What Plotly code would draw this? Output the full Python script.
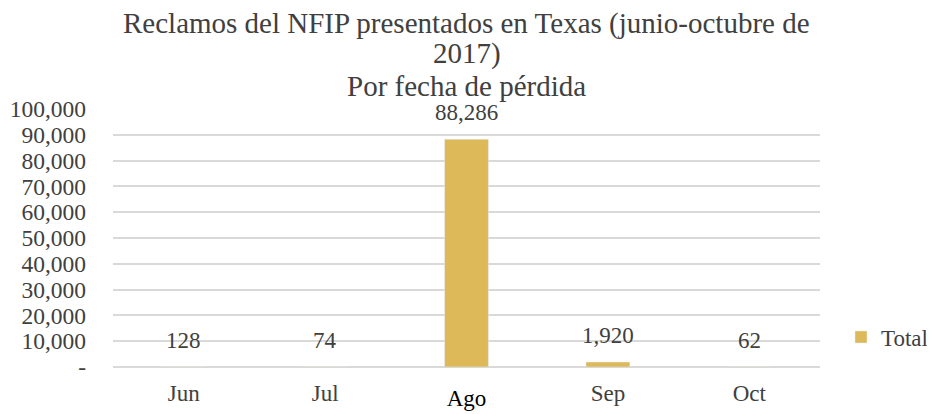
import plotly.graph_objects as go

categories = ["Jun", "Jul", "Ago", "Sep", "Oct"]
values = [128, 74, 88286, 1920, 62]
tick_vals = [0, 10000, 20000, 30000, 40000, 50000, 60000, 70000, 80000, 90000, 100000]
tick_text = ["-", "10,000", "20,000", "30,000", "40,000", "50,000", "60,000",
             "70,000", "80,000", "90,000", "100,000"]
cat_labels = ["Jun", "Jul", "<span style='color:#000000;baseline-shift:-5px'>Ago</span>", "Sep", "Oct"]
title_lines = ["Reclamos del NFIP presentados en Texas (junio-octubre de", "2017)", "Por fecha de pérdida"]

FONT = "Liberation Serif"
GRAY = "#404040"
GOLD = "#DDB95A"

# the page body adds an 8px margin, so the figure is laid out 8px smaller/shifted
OFF = 8
W, H = 935 - OFF, 414 - OFF
PLOT_L, PLOT_R, PLOT_T, PLOT_B = 113, 820, 108.7, 367   # in window pixels
ML = PLOT_L - OFF
MR = W - (PLOT_R - OFF)
MT = PLOT_T - OFF
MB = H - (PLOT_B - OFF)

fig = go.Figure()
fig.add_trace(go.Bar(
    x=categories, y=values, name="Total", marker_color=GOLD, width=0.31,
    showlegend=True,
))

for c, v in zip(categories, values):
    fig.add_annotation(x=c, y=v, text=f"{v:,}", showarrow=False, yanchor="bottom",
                       yshift=12, font=dict(family=FONT, size=23, color=GRAY))

title_px = [23, 53, 86]   # window pixel centres
for t, yy in zip(title_lines, title_px):
    fig.add_annotation(x=0.5, xref="paper", yref="paper",
                       y=(PLOT_B - yy) / (PLOT_B - PLOT_T),
                       text=t, showarrow=False, yanchor="middle", xanchor="center",
                       font=dict(family=FONT, size=29, color=GRAY))

fig.update_layout(
    width=W, height=H,
    margin=dict(l=ML, r=MR, t=MT, b=MB, pad=0, autoexpand=False),
    plot_bgcolor="white", paper_bgcolor="white",
    font=dict(family=FONT, size=23, color=GRAY),
    xaxis=dict(tickmode="array", tickvals=categories, ticktext=cat_labels,
               showgrid=False, showline=False, ticks="", automargin=False,
               ticklabelstandoff=10,
               tickfont=dict(family=FONT, size=23, color=GRAY)),
    yaxis=dict(range=[0, 100000], tickvals=tick_vals, ticktext=tick_text,
               showgrid=True, gridcolor="#D9D9D9", gridwidth=1.5, zeroline=True,
               zerolinecolor="#D9D9D9", zerolinewidth=1.5, ticks="", showline=False,
               automargin=False, ticklabelstandoff=26,
               tickfont=dict(family=FONT, size=23.5, color=GRAY)),
    legend=dict(x=(841 - PLOT_L) / (PLOT_R - PLOT_L), y=(PLOT_B - 337) / (PLOT_B - PLOT_T),
                xanchor="left", yanchor="middle",
                font=dict(family=FONT, size=23, color=GRAY), itemwidth=30),
    showlegend=True,
)

fig.write_html("out.html")
